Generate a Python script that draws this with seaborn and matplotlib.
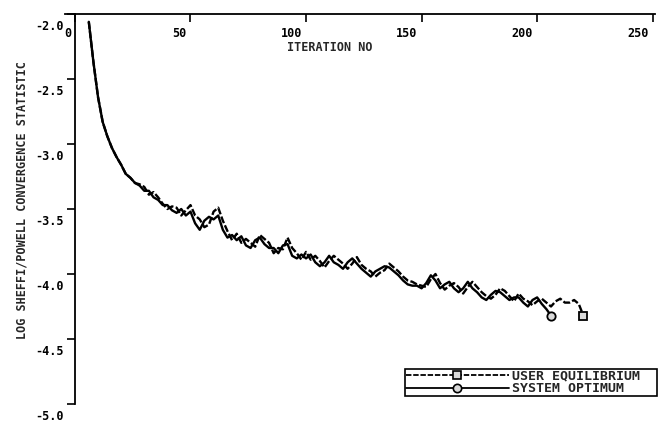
import matplotlib
matplotlib.use("Agg")
import matplotlib.pyplot as plt
import matplotlib.transforms as mtransforms
from matplotlib.lines import Line2D
import seaborn as sns
import pandas as pd

# ---------------- data ----------------
iter_so = list(range(6, 207, 2))
so_vals = [-2.06, -2.37, -2.64, -2.83, -2.94, -3.03, -3.10, -3.16, -3.23, -3.26,
           -3.30, -3.32, -3.36, -3.36, -3.41, -3.43, -3.47, -3.47, -3.51, -3.53,
           -3.50, -3.55, -3.52, -3.61, -3.66, -3.59, -3.56, -3.58, -3.55, -3.66,
           -3.72, -3.70, -3.74, -3.71, -3.78, -3.80, -3.74, -3.72, -3.77, -3.80,
           -3.80, -3.84, -3.78, -3.77, -3.86, -3.88, -3.85, -3.88, -3.85, -3.91,
           -3.94, -3.91, -3.86, -3.91, -3.93, -3.96, -3.91, -3.88, -3.92, -3.96,
           -3.99, -4.02, -3.98, -3.96, -3.94, -3.95, -3.98, -4.01, -4.05, -4.08,
           -4.09, -4.09, -4.11, -4.07, -4.01, -4.05, -4.11, -4.08, -4.06, -4.11,
           -4.14, -4.11, -4.06, -4.11, -4.14, -4.18, -4.20, -4.16, -4.13, -4.14,
           -4.17, -4.20, -4.18, -4.18, -4.22, -4.25, -4.20, -4.18, -4.23, -4.27,
           -4.32]

iter_ue = list(range(6, 221, 2))
ue_vals = [-2.06, -2.37, -2.64, -2.83, -2.94, -3.03, -3.10, -3.16, -3.23, -3.26,
           -3.30, -3.31, -3.33, -3.39, -3.37, -3.41, -3.46, -3.50, -3.48, -3.49,
           -3.55, -3.51, -3.47, -3.55, -3.58, -3.64, -3.62, -3.52, -3.49, -3.59,
           -3.67, -3.74, -3.69, -3.76, -3.73, -3.76, -3.79, -3.70, -3.73, -3.76,
           -3.84, -3.80, -3.81, -3.72, -3.80, -3.84, -3.89, -3.83, -3.89, -3.86,
           -3.90, -3.95, -3.90, -3.86, -3.89, -3.92, -3.96, -3.92, -3.87, -3.93,
           -3.96, -3.98, -4.02, -3.99, -3.97, -3.92, -3.95, -3.98, -4.02, -4.05,
           -4.06, -4.08, -4.09, -4.10, -4.04, -4.00, -4.07, -4.12, -4.09, -4.07,
           -4.10, -4.15, -4.10, -4.06, -4.10, -4.14, -4.17, -4.19, -4.16, -4.11,
           -4.13, -4.17, -4.21, -4.15, -4.19, -4.21, -4.24, -4.21, -4.19, -4.22,
           -4.25, -4.21, -4.19, -4.22, -4.22, -4.20, -4.23, -4.32]

x_ticks = [0, 50, 100, 150, 200, 250]
y_ticks = [-2.0, -2.5, -3.0, -3.5, -4.0, -4.5, -5.0]
y_tick_labels = ["-2.0", "-2.5", "-3.0", "-3.5", "-4.0", "-4.5", "-5.0"]
label_ue = "USER EQUILIBRIUM"
label_so = "SYSTEM OPTIMUM"
x_title = "ITERATION NO"
y_title = "LOG SHEFFI/POWELL CONVERGENCE STATISTIC"

# ---------------- style ----------------
sns.set_style("white")
plt.rcParams["font.family"] = ["DejaVu Sans Mono", "DejaVu Sans"]
plt.rcParams["font.weight"] = "bold"

fig = plt.figure(figsize=(6.65, 4.23), dpi=100)
ax = fig.add_axes([65 / 665, 19 / 423, 590 / 665, 390 / 423])

df_so = pd.DataFrame({"it": iter_so, "v": so_vals})
df_ue = pd.DataFrame({"it": iter_ue, "v": ue_vals})

UE_DASH = (3, 1)
sns.lineplot(data=df_so, x="it", y="v", ax=ax, color="black", linewidth=1.7,
             estimator=None)
sns.lineplot(data=df_ue, x="it", y="v", ax=ax, color="black", linewidth=1.7,
             estimator=None)
ax.lines[-1].set_dashes(UE_DASH)

# end markers
ax.plot([iter_so[-1]], [so_vals[-1]], marker="o", ms=6, mfc="#d9d9d9",
        mec="black", mew=1.3, ls="none")
ax.plot([iter_ue[-1]], [ue_vals[-1]], marker="s", ms=6, mfc="#d9d9d9",
        mec="black", mew=1.3, ls="none")

ax.set_xlim(-4.3, 251)
ax.set_ylim(-5.0, -2.0)

# spines
ax.spines["right"].set_visible(False)
ax.spines["bottom"].set_visible(False)
ax.spines["left"].set_position(("data", 0))
for s in ("left", "top"):
    ax.spines[s].set_color("black")
    ax.spines[s].set_linewidth(1.3)

# x axis on top, ticks pointing down, labels inside
ax.xaxis.tick_top()
ax.set_xticks(x_ticks)
ax.set_xticklabels([str(t) for t in x_ticks])
ax.tick_params(axis="x", which="both", direction="in", length=6, width=1.2,
               pad=0, labelsize=8.5, colors="black", top=True, bottom=False)
# y axis
ax.set_yticks(y_ticks)
ax.set_yticklabels(y_tick_labels)
ax.tick_params(axis="y", which="both", direction="out", length=6, width=1.2,
               pad=2, labelsize=8.5, colors="black", left=True)

offx = mtransforms.ScaledTranslation(-4 / 100, -26 / 100, fig.dpi_scale_trans)
for t in ax.xaxis.get_major_ticks():
    t.label2.set_horizontalalignment("right")
    t.label2.set_transform(t.label2.get_transform() + offx)
offy = mtransforms.ScaledTranslation(0, -11 / 100, fig.dpi_scale_trans)
for t in ax.yaxis.get_major_ticks():
    t.label1.set_transform(t.label1.get_transform() + offy)

ax.set_xlabel("")
ax.set_ylabel("")
ax.text(0.449, 0.915, x_title, transform=ax.transAxes, ha="center",
        va="center", fontsize=8.5, fontweight="bold")
fig.text(22 / 665, 1 - 200 / 423, y_title, rotation=90, ha="center",
         va="center", fontsize=8.5, fontweight="bold")

# legend
handles = [
    Line2D([], [], color="black", lw=1.3, dashes=UE_DASH, marker="s", ms=6,
           mfc="#d9d9d9", mec="black", mew=1.2),
    Line2D([], [], color="black", lw=1.3, marker="o", ms=6,
           mfc="#d9d9d9", mec="black", mew=1.2),
]
leg = ax.legend(handles, [label_ue, label_so], loc="lower left",
                bbox_to_anchor=(405 / 665, (423 - 396) / 423, 252 / 665, 24 / 423),
                bbox_transform=fig.transFigure, mode="expand",
                prop={"size": 9.5, "weight": "bold"},
                handlelength=7.8, handletextpad=0.25, borderpad=0.05,
                labelspacing=0.0, borderaxespad=0, numpoints=1,
                frameon=True, fancybox=False, framealpha=1)
leg.get_frame().set_edgecolor("black")
leg.get_frame().set_linewidth(1.2)

fig.savefig("out.png", dpi=100)
